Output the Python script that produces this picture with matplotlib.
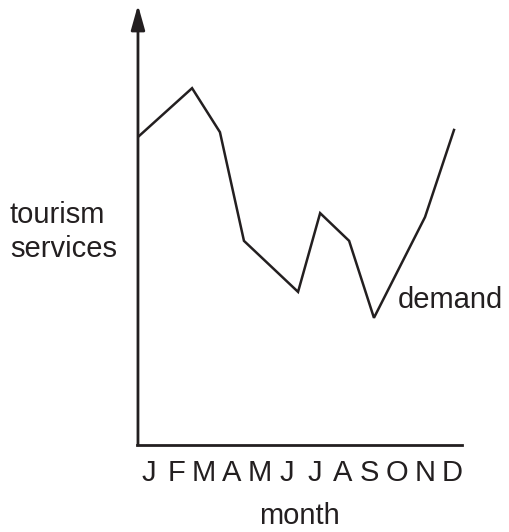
import matplotlib.pyplot as plt

months = ["J", "F", "M", "A", "M", "J", "J", "A", "S", "O", "N", "D"]
# position along the month axis (0 = Jan) and demand level (0-100)
month_pos = [-0.40, 1.56, 2.57, 3.44, 5.40, 6.20, 7.25, 8.15, 10.0, 11.05]
demand = [70.0, 81.1, 71.1, 46.4, 34.8, 52.7, 46.4, 28.9, 51.8, 71.6]

ink = "#231f20"
plt.rcParams["font.family"] = ["Liberation Sans", "DejaVu Sans"]

fig = plt.figure(figsize=(5.1, 5.32), dpi=100)
ax = fig.add_axes([137 / 510, 87 / 532, 325 / 510, 440 / 532])

ax.plot(month_pos, demand, color=ink, lw=1.8, solid_joinstyle="miter")
ax.set_xlim(-0.435, 11.34)
ax.set_ylim(0, 100)

for s in ["top", "right", "left"]:
    ax.spines[s].set_visible(False)
ax.spines["bottom"].set_linewidth(2)
ax.spines["bottom"].set_color(ink)

# y axis with arrow head
ax.annotate("", xy=(0.003, 1.0), xytext=(0.003, 0.0), xycoords="axes fraction",
            arrowprops=dict(arrowstyle="-|>,head_length=0.75,head_width=0.21",
                            mutation_scale=20, lw=2, color=ink,
                            shrinkA=0, shrinkB=0))

ax.set_yticks([])
ax.set_xticks(range(12))
ax.set_xticklabels(months, fontsize=21, color=ink)
ax.tick_params(axis="x", length=0, pad=10)

ax.set_xlabel("month", fontsize=21, color=ink, labelpad=11)

fig.text(10 / 510, 1 - 232 / 532, "tourism\nservices", fontsize=21, color=ink,
         ha="left", va="center", linespacing=1.3)
ax.text(9.0, 33, "demand", fontsize=21, color=ink, ha="left", va="center")

fig.savefig("out.png", dpi=100)
